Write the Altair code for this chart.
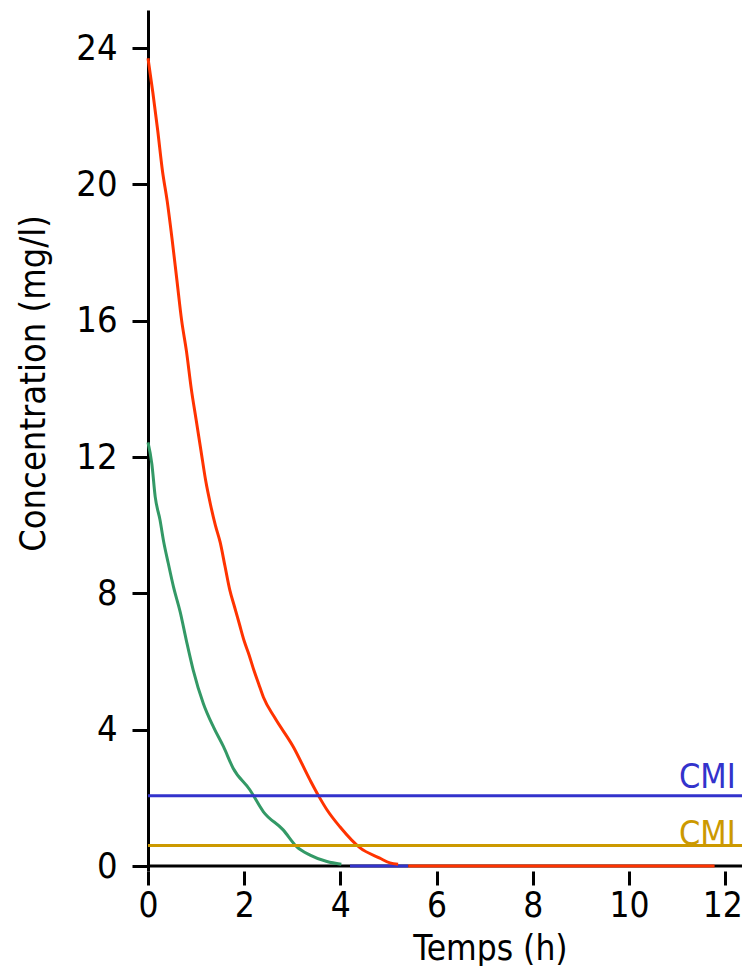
import altair as alt
import pandas as pd

# ---- data ----
red_t = [0, 0.1, 0.2, 0.3, 0.4, 0.5, 0.6, 0.7, 0.8, 0.9, 1.0, 1.1, 1.2, 1.3, 1.4,
         1.5, 1.6, 1.7, 1.8, 1.9, 2.0, 2.1, 2.2, 2.3, 2.4, 2.64, 3.02, 3.37, 3.55,
         3.72, 3.99, 4.41, 4.82, 5.03, 5.2]
red_c = [23.7, 22.7, 21.6, 20.4, 19.5, 18.4, 17.2, 16.0, 15.1, 14.0, 13.1, 12.2,
         11.3, 10.6, 10.0, 9.5, 8.8, 8.1, 7.6, 7.1, 6.6, 6.2, 5.75, 5.35, 4.95,
         4.34, 3.5, 2.52, 2.05, 1.65, 1.15, 0.53, 0.23, 0.09, 0.05]

green_t = [0, 0.08, 0.15, 0.25, 0.32, 0.42, 0.53, 0.67, 0.8, 0.94, 1.15, 1.36,
           1.57, 1.77, 2.12, 2.4, 2.81, 3.09, 3.37, 3.72, 4.02]
green_c = [12.43, 11.8, 10.83, 10.15, 9.56, 8.89, 8.19, 7.45, 6.6, 5.75, 4.77,
           4.08, 3.5, 2.87, 2.23, 1.59, 1.06, 0.57, 0.32, 0.13, 0.05]

blue_zero_t = [4.2, 5.41]
red_zero_t = [5.41, 11.78]
zero_c = [0, 0]

cmi_values = [2.06, 0.6]
cmi_colors = ["#3333CC", "#CC9900"]
cmi_label_x = [12.22, 12.22]
cmi_label_y = [2.28, 0.63]
cmi_labels = ["CMI", "CMI"]

x_ticks = [0, 2, 4, 6, 8, 10, 12]
y_ticks = [0, 4, 8, 12, 16, 20, 24]
x_max = 12.35
y_min, y_max = -0.1467, 25.115

RED = "#FF3300"
GREEN = "#339966"
BLUE = "#3333CC"
FONT = "Liberation Sans Narrow, Arial Narrow, DejaVu Sans Condensed, sans-serif"

xs = alt.Scale(domain=[0, x_max], nice=False, zero=False)
ys = alt.Scale(domain=[y_min, y_max], nice=False, zero=False)

x_axis = alt.Axis(values=x_ticks, title="Temps (h)", domain=False, grid=False,
                  tickColor="black", tickWidth=3, tickSize=14,
                  labelFont=FONT, labelFontSize=35, labelColor="black",
                  labelPadding=3, labelFlush=False,
                  labelOffset={"condition": {"test": "datum.value === 12", "value": -3},
                               "value": 0},
                  titleFont=FONT, titleFontSize=35, titleFontWeight="normal",
                  titleColor="black", titleX=342, titleY=88,
                  titleAlign="center", titleBaseline="alphabetic")
y_axis = alt.Axis(values=y_ticks, title="Concentration (mg/l)", grid=False,
                  domainColor="black", domainWidth=3,
                  tickColor="black", tickWidth=3, tickSize=16,
                  labelFont=FONT, labelFontSize=36, labelColor="black",
                  labelPadding=15, labelFlush=False,
                  titleFont=FONT, titleFontSize=36, titleFontWeight="normal",
                  titleColor="black", titleAngle=270, titleX=-104, titleY=373,
                  titleAlign="center", titleBaseline="alphabetic")


def X(field):
    return alt.X(field, type="quantitative", scale=xs, axis=x_axis)


def Y(field):
    return alt.Y(field, type="quantitative", scale=ys, axis=y_axis)


zero_df = pd.DataFrame({"t": [0, x_max], "c": zero_c})
zero_line = alt.Chart(zero_df).mark_line(color="black", strokeWidth=3).encode(
    x=X("t"), y=Y("c"))

blue_zero = alt.Chart(pd.DataFrame({"t": blue_zero_t, "c": zero_c})).mark_line(
    color=BLUE, strokeWidth=3).encode(x=X("t"), y=Y("c"))

red_zero = alt.Chart(pd.DataFrame({"t": red_zero_t, "c": zero_c})).mark_line(
    color=RED, strokeWidth=3).encode(x=X("t"), y=Y("c"))

red_line = alt.Chart(pd.DataFrame({"t": red_t, "c": red_c})).mark_line(
    color=RED, strokeWidth=3, interpolate="monotone").encode(x=X("t"), y=Y("c"))

green_line = alt.Chart(pd.DataFrame({"t": green_t, "c": green_c})).mark_line(
    color=GREEN, strokeWidth=3, interpolate="monotone").encode(x=X("t"), y=Y("c"))

cmi_df = pd.DataFrame({"v": cmi_values, "col": cmi_colors,
                       "lx": cmi_label_x, "ly": cmi_label_y, "lab": cmi_labels})
cmi_rules = alt.Chart(cmi_df).mark_rule(strokeWidth=3).encode(
    y=Y("v"),
    color=alt.Color("col:N", scale=None),
)
cmi_text = alt.Chart(cmi_df).mark_text(
    align="right", baseline="alphabetic", font=FONT, fontSize=34).encode(
    x=X("lx"),
    y=Y("ly"),
    text="lab:N",
    color=alt.Color("col:N", scale=None),
)

chart = alt.layer(
    zero_line, blue_zero, red_zero, red_line, green_line, cmi_rules, cmi_text
).properties(
    width=594, height=861,
    autosize=alt.AutoSizeParams(type="none"),
    padding={"left": 140, "top": 2, "right": 0, "bottom": 95},
    background="white",
).configure_view(stroke=None)

chart.save("out.html", embed_options={"renderer": "svg", "actions": False})
